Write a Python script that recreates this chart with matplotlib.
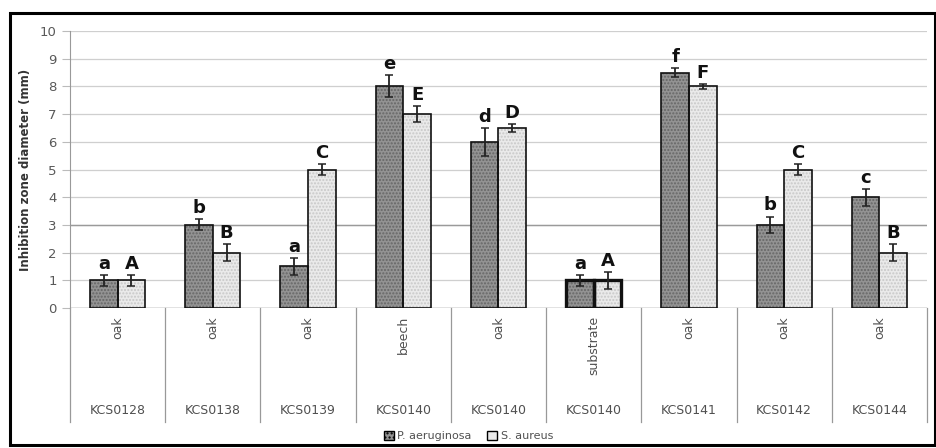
import numpy as np
import matplotlib.pyplot as plt
from matplotlib.patches import Patch, Rectangle

strains = ['KCS0128', 'KCS0138', 'KCS0139', 'KCS0140', 'KCS0140',
           'KCS0140', 'KCS0141', 'KCS0142', 'KCS0144']
sources = ['oak', 'oak', 'oak', 'beech', 'oak', 'substrate', 'oak', 'oak', 'oak']

pa_vals = [1.0, 3.0, 1.5, 8.0, 6.0, 1.0, 8.5, 3.0, 4.0]
pa_err = [0.2, 0.2, 0.3, 0.4, 0.5, 0.2, 0.15, 0.3, 0.3]
pa_letters = ['a', 'b', 'a', 'e', 'd', 'a', 'f', 'b', 'c']

sa_vals = [1.0, 2.0, 5.0, 7.0, 6.5, 1.0, 8.0, 5.0, 2.0]
sa_err = [0.2, 0.3, 0.2, 0.3, 0.15, 0.3, 0.08, 0.2, 0.3]
sa_letters = ['A', 'B', 'C', 'E', 'D', 'A', 'F', 'C', 'B']

dark_fc, dark_hc = '#939393', '#666666'
light_fc, light_hc = '#eaeaea', '#c8c8c8'

fig = plt.figure(figsize=(9.37, 4.48), dpi=100)
ax = fig.add_axes([70 / 937, 1 - 308 / 448, 857 / 937, 277 / 448])

x = np.arange(len(strains))
w = 0.29

for xs, vals, fc, hc in [(x - w / 2, pa_vals, dark_fc, dark_hc),
                         (x + w / 2, sa_vals, light_fc, light_hc)]:
    ax.bar(xs, vals, w, color=fc, edgecolor=hc, hatch='.....', linewidth=0, zorder=2)
    lw = [2.4 if s == 'substrate' else 1.2 for s in sources]
    ax.bar(xs, vals, w, fill=False, edgecolor='#111111', linewidth=lw, zorder=3)

ax.errorbar(x - w / 2, pa_vals, yerr=pa_err, fmt='none', ecolor='#222222',
            elinewidth=1.3, capsize=3, capthick=1.1, zorder=4)
ax.errorbar(x + w / 2, sa_vals, yerr=sa_err, fmt='none', ecolor='#222222',
            elinewidth=1.3, capsize=3, capthick=1.1, zorder=4)

for i in range(len(strains)):
    ax.text(x[i] - w / 2, pa_vals[i] + pa_err[i] + 0.08, pa_letters[i],
            ha='center', va='bottom', fontsize=13, fontweight='bold', color='#111111')
    ax.text(x[i] + w / 2, sa_vals[i] + sa_err[i] + 0.08, sa_letters[i],
            ha='center', va='bottom', fontsize=13, fontweight='bold', color='#111111')

ax.set_xlim(-0.5, len(strains) - 0.5)
ax.set_ylim(0, 10)
ax.set_yticks(range(0, 11))
ax.tick_params(axis='y', labelsize=9.5, labelcolor='#595959', color='#bbbbbb',
               length=6, width=0.8)
ax.set_xticks([])
ax.yaxis.grid(True, color='#cfcfcf', linewidth=0.9, zorder=0)
ax.set_axisbelow(True)
ax.axhline(3, color='#9a9a9a', linewidth=1, zorder=1)
for s in ['top', 'right', 'bottom']:
    ax.spines[s].set_visible(False)
ax.spines['left'].set_color('#999999')
ax.axhline(0, color='#888888', linewidth=1, zorder=1)

ax.set_ylabel('Inhibition zone diameter (mm)', fontsize=8.5, fontweight='bold',
              color='#333333', labelpad=6)

# two-level category axis
tr = ax.get_xaxis_transform()
for b in np.arange(-0.5, len(strains), 1.0):
    ax.plot([b, b], [0, -114 / 277], transform=tr, color='#999999',
            linewidth=0.9, clip_on=False)
for i in range(len(strains)):
    ax.text(x[i], -8 / 277, sources[i], transform=tr, rotation=90,
            ha='center', va='top', fontsize=9, color='#505050')
    ax.text(x[i], -103 / 277, strains[i], transform=tr,
            ha='center', va='center', fontsize=9, color='#505050')

handles = [Patch(facecolor=dark_fc, edgecolor='black', hatch='....', label='P. aeruginosa'),
           Patch(facecolor=light_fc, edgecolor='black', label='S. aureus')]
fig.legend(handles=handles, loc='center', bbox_to_anchor=(0.5, 1 - 436 / 448), ncol=2,
           frameon=False, fontsize=8, handlelength=0.9, handleheight=0.9,
           handletextpad=0.3, columnspacing=1.4, labelcolor='#505050')

fig.patches.append(Rectangle((10 / 937, 3 / 448), 925 / 937, 432 / 448,
                             transform=fig.transFigure, fill=False,
                             edgecolor='black', linewidth=2.2))

fig.savefig('out.png', dpi=100)
